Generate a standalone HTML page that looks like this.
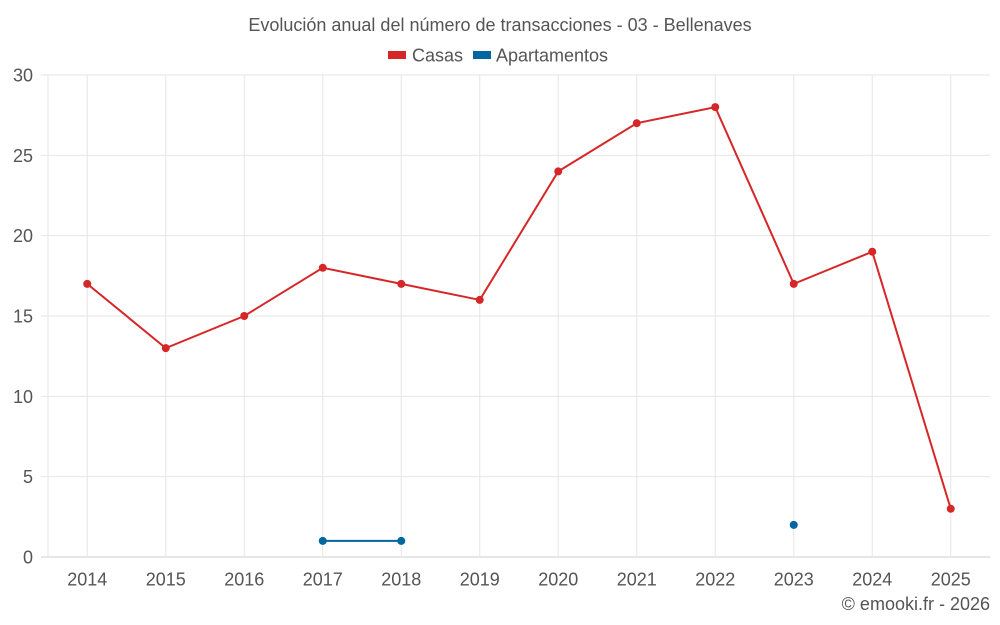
<!DOCTYPE html>
<html><head><meta charset="utf-8"><style>
body{margin:0;background:#fff;}
svg{display:block;font-family:"Liberation Sans",Roboto,sans-serif;}
</style></head><body>
<svg id="chart" width="1000" height="625">
<text x="500" y="31" text-anchor="middle" font-size="18" fill="#555">Evolución anual del número de transacciones - 03 - Bellenaves</text>
<g>
<g><rect x="388" y="51" width="18" height="8" fill="#d62728"/><text x="412" y="61.5" font-size="18" fill="#555">Casas</text></g>
<g><rect x="473" y="51" width="18" height="8" fill="#0066a0"/><text x="496" y="61.5" font-size="18" fill="#555">Apartamentos</text></g>
</g>
<g id="grid"></g>
<g id="axes"></g>
<g id="series"></g>
<text x="990" y="610" text-anchor="end" font-size="18" fill="#555">© emooki.fr - 2026</text>
</svg>
<script>
const categories=["2014","2015","2016","2017","2018","2019","2020","2021","2022","2023","2024","2025"];
const casas=[17,13,15,18,17,16,24,27,28,17,19,3];
const apartamentos=[null,null,null,1,1,null,null,null,null,2,null,null];
const yTicks=[0,5,10,15,20,25,30];
const L=48,R=990,T=75,B=557,yMax=30;
const bw=(R-L)/categories.length;
const x=i=>L+bw*(i+0.5);
const y=v=>B-(v/yMax)*(B-T);
const NS="http://www.w3.org/2000/svg";
function mk(tag,attrs,parent){const e=document.createElementNS(NS,tag);for(const k in attrs)e.setAttribute(k,attrs[k]);parent.appendChild(e);return e;}
const grid=document.getElementById('grid'),axes=document.getElementById('axes'),series=document.getElementById('series');
yTicks.forEach(t=>{
 const l=mk('line',{x1:41,x2:R,y1:y(t),y2:y(t),stroke:t===0?'#ccc':'#e6e6e6','stroke-width':1},grid);
 
 
 const tx=mk('text',{x:33,y:y(t)+6.5,'text-anchor':'end','font-size':18,fill:'#555'},axes);
 tx.textContent=t;
 
 
});
const lv=mk('line',{x1:L,x2:L,y1:T,y2:B,stroke:'#e6e6e6'},grid);


categories.forEach((c,i)=>{
 const g=mk('line',{x1:x(i),x2:x(i),y1:T,y2:B,stroke:'#e6e6e6'},grid);
 
 
 const tx=mk('text',{x:x(i),y:585.5,'text-anchor':'middle','font-size':18,fill:'#555'},axes);
 tx.textContent=c;
 
 
});
function draw(vals,color,name){
 let segs=[],cur=[];
 vals.forEach((v,i)=>{if(v==null){if(cur.length)segs.push(cur);cur=[];}else cur.push([x(i),y(v)]);});
 if(cur.length)segs.push(cur);
 segs.forEach(s=>{if(s.length>1){
  const p=mk('polyline',{points:s.map(q=>q.join(',')).join(' '),fill:'none',stroke:color,'stroke-width':2},series);
  
  
 }});
 vals.forEach((v,i)=>{if(v==null)return;
  const c=mk('circle',{cx:x(i),cy:y(v),r:4,fill:color},series);
  
  
 });
}
draw(casas,'#d62728','casas');
draw(apartamentos,'#0066a0','apartamentos');
</script>
</body></html>
